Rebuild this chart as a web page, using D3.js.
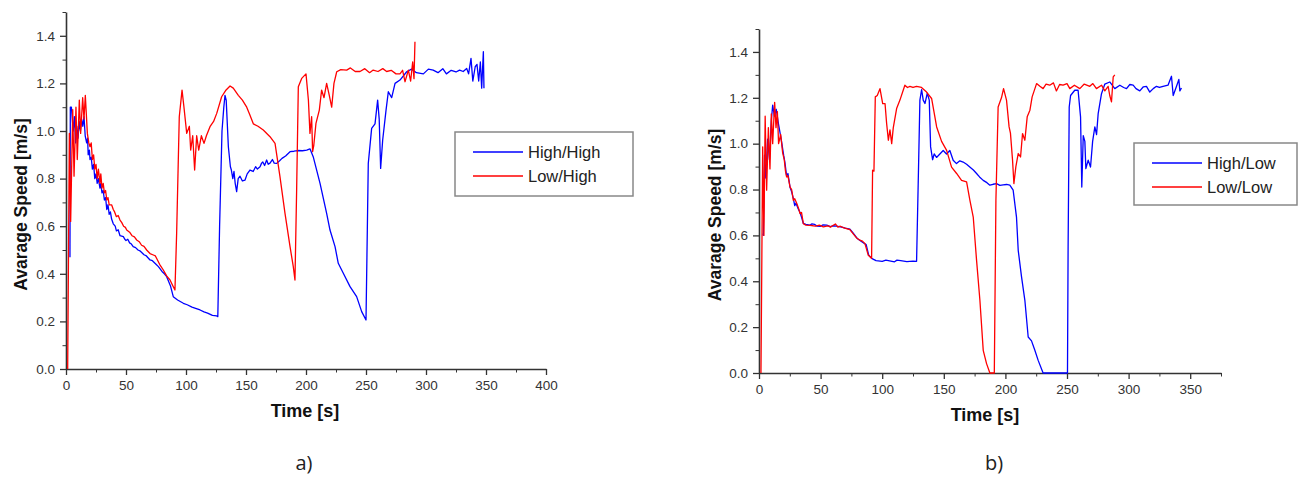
<!DOCTYPE html>
<html>
<head>
<meta charset="utf-8">
<script src="https://cdn.jsdelivr.net/npm/d3@7"></script>
<style>
  body { margin: 0; background: #fff; }
  svg { display: block; }
  .tick text { font-family: "Liberation Sans", Arial, sans-serif; font-size: 13.5px; fill: #333; }
  .axis path, .axis line { stroke: #333; }
</style>
</head>
<body>
<svg id="chart" width="1302" height="477"></svg>
<script>
// panel a) series, [time s, speed m/s]
const highHigh = [[3.3,0.47],[3.6,1.10],[4.5,1.10],[6,1.00],[7,1.06],[8,0.95],[9,1.02],[10,0.97],[11,1.04],[12,1.00],[13,1.05],[14,1.02],[15,1.06],[16,0.98],[17.2,0.95],[18,0.97],[18.5,0.90],[19.5,0.92],[20,0.88],[21,0.89],[22,0.84],[23,0.86],[24,0.80],[25,0.82],[26,0.78],[27,0.80],[28.3,0.76],[29,0.78],[30,0.74],[31,0.75],[32,0.71],[33,0.72],[34,0.67],[35,0.69],[36,0.65],[37,0.66],[38,0.63],[39.4,0.61],[41,0.60],[42,0.58],[43.5,0.585],[45,0.56],[47.8,0.556],[49,0.545],[50,0.54],[51.5,0.545],[53,0.53],[54.5,0.525],[56,0.514],[58,0.51],[60,0.50],[62,0.495],[65,0.48],[67,0.475],[70,0.458],[72,0.455],[75,0.44],[77,0.43],[80,0.41],[82,0.40],[83.9,0.388],[87,0.35],[89.4,0.304],[93,0.29],[97.8,0.276],[101,0.27],[105,0.26],[108,0.255],[111.7,0.248],[115,0.24],[118,0.235],[122,0.225],[125.6,0.223],[126.5,0.22],[128,0.60],[130,1.00],[131.5,1.10],[132.5,1.15],[133.5,1.13],[135.3,0.934],[137,0.85],[137.8,0.836],[139,0.80],[140,0.83],[141,0.78],[142.2,0.745],[143.5,0.80],[145,0.81],[147,0.79],[149.2,0.794],[151,0.82],[153.3,0.836],[156,0.83],[158,0.85],[159.5,0.84],[161.7,0.85],[163,0.865],[164,0.87],[165.5,0.855],[167.2,0.878],[168.5,0.86],[170,0.865],[172,0.88],[173.5,0.865],[175.6,0.864],[178,0.875],[180,0.885],[183,0.895],[186.7,0.913],[190,0.915],[193,0.918],[197,0.917],[200.6,0.92],[203.3,0.925],[206,0.892],[211.7,0.78],[217.2,0.654],[220,0.584],[224.2,0.514],[226.9,0.444],[231.1,0.402],[236.7,0.346],[242.2,0.304],[246.4,0.241],[250,0.206],[251.1,0.584],[251.9,0.864],[254.7,1.011],[257.5,1.03],[259.7,1.13],[261,1.05],[262.2,0.843],[263.9,0.962],[266.7,1.088],[268.6,1.165],[271.4,1.14],[274.2,1.20],[278.3,1.214],[283.9,1.249],[288,1.26],[292,1.245],[297.8,1.24],[302,1.26],[306,1.256],[310,1.245],[314,1.262],[317,1.24],[321,1.255],[325,1.248],[328,1.256],[331,1.25],[333.9,1.263],[335.5,1.24],[337.5,1.305],[339,1.21],[341,1.27],[342.5,1.28],[343.9,1.21],[345.3,1.29],[346.4,1.18],[347.8,1.333],[348.3,1.18]];
const lowHigh = [[1.4,0],[2.8,0.99],[3.9,0.62],[5.6,1.09],[6.7,0.81],[8.3,1.10],[9.4,0.88],[11.1,1.13],[12.2,0.99],[13.9,1.14],[15,1.05],[16.1,1.15],[17.8,0.99],[19,0.95],[20,0.934],[21,0.95],[22,0.88],[23,0.90],[24,0.84],[25,0.86],[26,0.80],[27,0.84],[28.3,0.78],[29,0.82],[30,0.76],[31,0.78],[32,0.74],[33,0.75],[34,0.71],[35,0.72],[36,0.69],[38,0.69],[39.4,0.67],[40.5,0.66],[42,0.64],[43.5,0.645],[45,0.626],[46.5,0.615],[48,0.60],[49.5,0.595],[50.6,0.584],[53,0.575],[55,0.56],[57,0.555],[58.9,0.542],[61,0.535],[63,0.52],[65,0.515],[67.2,0.50],[70,0.485],[72.8,0.479],[74.5,0.475],[76,0.46],[78,0.44],[81.1,0.416],[84,0.39],[86.7,0.374],[89,0.35],[90.8,0.332],[92.2,0.57],[94.4,1.06],[96.7,1.172],[98.3,1.10],[100.6,0.99],[102.8,1.02],[103.9,0.92],[105.6,0.98],[107.2,0.836],[108.9,0.98],[110.6,0.92],[112.8,0.98],[115,0.948],[117,0.98],[120,1.018],[123,1.04],[125.6,1.074],[129.7,1.144],[133,1.17],[136.7,1.189],[139.4,1.18],[143.6,1.15],[147,1.13],[150.6,1.10],[153,1.07],[156.1,1.03],[160,1.02],[164.4,1.004],[170,0.976],[174.2,0.948],[178.3,0.808],[182.5,0.654],[186.7,0.514],[189.4,0.43],[190.8,0.374],[192.2,0.752],[193.6,1.186],[196.4,1.221],[200,1.24],[202,1.13],[203.3,0.99],[204.7,1.06],[205.5,0.913],[206.5,0.94],[208.3,1.032],[211.1,1.088],[213,1.172],[215,1.14],[217.2,1.20],[219.4,1.15],[221.4,1.10],[223.3,1.20],[225.6,1.249],[229,1.258],[233.9,1.256],[237,1.265],[241,1.25],[245,1.25],[249,1.262],[253,1.245],[256,1.256],[260,1.25],[264,1.262],[267.2,1.25],[271,1.255],[275,1.24],[278.3,1.24],[280.5,1.255],[282.5,1.207],[285.3,1.256],[287.2,1.21],[288.9,1.29],[290,1.22],[290.8,1.375]];

// panel b) series
const highLow = [[3.2,0.608],[3.5,0.60],[4.5,0.95],[5.5,0.85],[7,1.02],[8.5,0.93],[10,1.10],[11.1,1.168],[12.5,1.12],[14,1.15],[16,1.08],[18,1.02],[20,0.95],[21,0.92],[22.4,0.86],[23.5,0.87],[25.2,0.81],[26.5,0.79],[27.9,0.76],[29,0.73],[30,0.74],[31.5,0.72],[33.3,0.70],[34.5,0.68],[36,0.652],[38,0.648],[41.4,0.645],[43,0.65],[45,0.648],[47,0.641],[50,0.64],[52,0.646],[55,0.645],[58,0.638],[60,0.642],[63,0.64],[65,0.638],[68,0.635],[70,0.632],[73.8,0.627],[76.5,0.61],[80,0.585],[84,0.57],[87,0.56],[89,0.515],[91.4,0.50],[95,0.49],[100,0.487],[103,0.492],[105,0.49],[110,0.485],[112,0.492],[115,0.49],[120,0.486],[125,0.488],[127.9,0.487],[129.5,0.898],[130.6,1.19],[132,1.236],[133.3,1.19],[134.7,1.175],[136.6,1.22],[138.2,1.19],[139.3,0.986],[140.9,0.93],[142.2,0.955],[144.1,0.94],[146.8,0.955],[149.5,0.97],[152.2,0.955],[154.9,0.97],[157.6,0.928],[160.3,0.913],[163,0.925],[165.7,0.92],[168.5,0.91],[171.1,0.898],[174,0.885],[176.6,0.87],[179,0.855],[182,0.84],[185,0.83],[187.4,0.819],[190,0.823],[192.8,0.826],[195.5,0.818],[198.2,0.82],[201,0.822],[203.6,0.819],[206.3,0.797],[209,0.68],[210.4,0.535],[213.1,0.419],[215.8,0.317],[218.5,0.157],[221.2,0.14],[223.9,0.099],[226.6,0.055],[230.6,0],[250.4,0],[250.9,0.55],[251.8,1.16],[252.9,1.21],[256.3,1.233],[259,1.233],[261,1.117],[262,0.811],[263.2,1.035],[264.5,1.01],[265.3,0.891],[267.2,0.928],[269.1,0.898],[270.8,1.01],[272.6,1.073],[274,1.04],[275.3,1.131],[278,1.218],[280.7,1.26],[284.7,1.269],[288.8,1.24],[292.9,1.255],[296,1.245],[298.3,1.24],[301,1.258],[303.7,1.255],[306,1.24],[309.1,1.23],[312,1.248],[314.5,1.25],[317.2,1.225],[320,1.24],[322.6,1.25],[325,1.245],[328,1.25],[332,1.255],[334.8,1.294],[336.2,1.21],[338.9,1.25],[340.8,1.28],[341.6,1.23],[342.9,1.243]];
const lowLow = [[1.6,0],[3,0.986],[4,0.60],[5,1.12],[6.2,0.797],[7.6,1.07],[8.9,0.89],[10,1.13],[11.1,1.0],[12.7,1.18],[13.8,1.07],[14.9,1.14],[15.9,1.0],[17.6,1.04],[19.2,0.96],[20.5,0.93],[21.5,0.88],[22.4,0.855],[23.5,0.86],[25.2,0.81],[26.5,0.80],[27.9,0.753],[29,0.76],[30.6,0.74],[32,0.72],[33.3,0.695],[34.5,0.70],[36,0.651],[38,0.645],[41.4,0.644],[44,0.642],[46,0.640],[49,0.645],[52.2,0.637],[56,0.642],[58,0.636],[60.3,0.644],[62,0.65],[64,0.636],[66,0.64],[68.4,0.634],[71,0.63],[73.8,0.625],[76.5,0.607],[79,0.59],[81.9,0.579],[84,0.575],[86,0.564],[88.7,0.513],[91.4,0.50],[92.2,0.884],[93.3,0.88],[94.4,1.204],[96,1.21],[98.2,1.24],[100.4,1.175],[102.3,1.175],[103.6,1.088],[105,1.015],[106.3,1.06],[107.7,1.0],[109,1.07],[111.7,1.153],[114.4,1.19],[118.4,1.255],[120.5,1.245],[122.5,1.25],[125,1.245],[127.9,1.25],[131.9,1.245],[136,1.225],[140.1,1.197],[144.2,1.073],[148.2,1.01],[152.3,0.971],[156.3,0.898],[160.4,0.87],[164.4,0.84],[168.5,0.833],[171.2,0.753],[173.9,0.68],[176.6,0.491],[179.3,0.317],[182,0.099],[184.7,0.041],[187.4,0],[191,0],[192.3,0.753],[194.1,1.16],[196.8,1.2],[198.5,1.24],[200.9,1.19],[203,1.073],[204.1,1.046],[205.8,0.928],[206.9,0.826],[208.5,0.9],[210.4,0.957],[212.3,0.942],[213.9,1.044],[215.8,1.015],[217.7,1.117],[219.9,1.146],[221.7,1.204],[225.3,1.262],[228,1.25],[230.6,1.24],[233,1.26],[236,1.255],[239,1.265],[241.4,1.23],[244,1.258],[246.8,1.255],[250,1.262],[252.3,1.24],[256,1.255],[260.4,1.24],[264,1.26],[268.5,1.25],[271,1.262],[273.9,1.24],[278,1.255],[280.7,1.23],[283.4,1.25],[284.7,1.21],[286.1,1.182],[287.5,1.291],[288.8,1.30]];

const yTicks = [0, 0.2, 0.4, 0.6, 0.8, 1.0, 1.2, 1.4];
const yMinor = [0.1, 0.3, 0.5, 0.7, 0.9, 1.1, 1.3, 1.5];
const xTicksA = [0, 50, 100, 150, 200, 250, 300, 350, 400];
const xTicksB = [0, 50, 100, 150, 200, 250, 300, 350];
const legendA = ['High/High', 'Low/High'];
const legendB = ['High/Low', 'Low/Low'];

const blue = '#0000ff';
const red = '#ff0000';

const svg = d3.select('#chart');

function panel(cfg) {
    const x = d3.scaleLinear().domain(cfg.xDomain).range([cfg.left, cfg.right]);
    const y = d3.scaleLinear().domain([0, 1.5]).range([cfg.bottom, cfg.top]);
    const g = svg.append('g');

    const xMinor = d3.range(25, cfg.xDomain[1] + 1, 50);

    // minor ticks first, majors over them
    g.append('g').attr('class', 'axis')
        .attr('transform', `translate(0,${cfg.bottom})`)
        .call(d3.axisBottom(x).tickValues(xMinor).tickSize(3.5).tickFormat('').tickSizeOuter(0))
        .call(s => s.select('.domain').remove());
    g.append('g').attr('class', 'axis')
        .attr('transform', `translate(${cfg.left},0)`)
        .call(d3.axisLeft(y).tickValues(yMinor).tickSize(3.5).tickFormat('').tickSizeOuter(0))
        .call(s => s.select('.domain').remove());

    const xa = g.append('g').attr('class', 'axis')
        .attr('transform', `translate(0,${cfg.bottom})`)
        .call(d3.axisBottom(x).tickValues(cfg.xTicks).tickSize(6).tickPadding(5).tickSizeOuter(0));
    const ya = g.append('g').attr('class', 'axis')
        .attr('transform', `translate(${cfg.left},0)`)
        .call(d3.axisLeft(y).tickValues(yTicks).tickSize(6).tickPadding(5).tickFormat(d3.format('.1f')).tickSizeOuter(0));
    [xa, ya].forEach(a => {
        a.select('.domain').attr('stroke-width', 1.6);
        a.selectAll('.tick line').attr('stroke-width', 1.3);
    });

    const line = d3.line().x(d => x(d[0])).y(d => y(d[1]));
    cfg.series.forEach(s => {
        g.append('path').datum(s.data)
            .attr('fill', 'none')
            .attr('stroke', s.color)
            .attr('stroke-width', 1.3)
            .attr('stroke-linejoin', 'round')
            .attr('d', line);
    });

    // axis titles
    g.append('text')
        .attr('transform', `translate(${cfg.yLabelX},${(cfg.top + cfg.bottom) / 2 + 14}) rotate(-90)`)
        .attr('text-anchor', 'middle')
        .style('font-family', '"Liberation Sans", Arial, sans-serif')
        .style('font-weight', 'bold')
        .style('font-size', '17.5px')
        .attr('fill', '#111')
        .text('Avarage Speed [m/s]');
    g.append('text')
        .attr('x', cfg.xLabelX).attr('y', cfg.bottom + 48)
        .attr('text-anchor', 'middle')
        .style('font-family', '"Liberation Sans", Arial, sans-serif')
        .style('font-weight', 'bold')
        .style('font-size', '18px')
        .attr('fill', '#111')
        .text('Time [s]');

    // legend
    const lg = g.append('g').attr('transform', `translate(${cfg.legend.x},${cfg.legend.y})`);
    lg.append('rect')
        .attr('width', cfg.legend.w).attr('height', cfg.legend.h)
        .attr('fill', '#fff').attr('stroke', '#888').attr('stroke-width', 1.5);
    cfg.series.forEach((s, i) => {
        const cy = 20 + i * 24;
        lg.append('line')
            .attr('x1', 18).attr('x2', 68).attr('y1', cy).attr('y2', cy)
            .attr('stroke', s.color).attr('stroke-width', 1.5);
        lg.append('text')
            .attr('x', 73).attr('y', cy + 6)
            .style('font-family', '"Liberation Sans", Arial, sans-serif')
            .style('font-size', '16.5px')
            .attr('fill', '#222')
            .text(s.name);
    });

    // caption
    svg.append('text')
        .attr('x', cfg.caption.x).attr('y', cfg.caption.y)
        .attr('text-anchor', 'middle')
        .style('font-family', '"Open Sans", "Noto Sans", sans-serif')
        .style('font-size', '20px')
        .attr('fill', '#222')
        .text(cfg.caption.text);
}

panel({
    left: 66, right: 546, top: 12, bottom: 369,
    xDomain: [0, 400], xTicks: xTicksA,
    yLabelX: 27, xLabelX: 305,
    series: [
        {name: legendA[0], color: blue, data: highHigh},
        {name: legendA[1], color: red, data: lowHigh}
    ],
    legend: {x: 455, y: 132, w: 178, h: 64},
    caption: {x: 304, y: 470, text: 'a)'}
});

panel({
    left: 759, right: 1221, top: 29, bottom: 373,
    xDomain: [0, 375], xTicks: xTicksB,
    yLabelX: 721, xLabelX: 985,
    series: [
        {name: legendB[0], color: blue, data: highLow},
        {name: legendB[1], color: red, data: lowLow}
    ],
    legend: {x: 1134, y: 143, w: 163, h: 62},
    caption: {x: 994, y: 470, text: 'b)'}
});
</script>
</body>
</html>
